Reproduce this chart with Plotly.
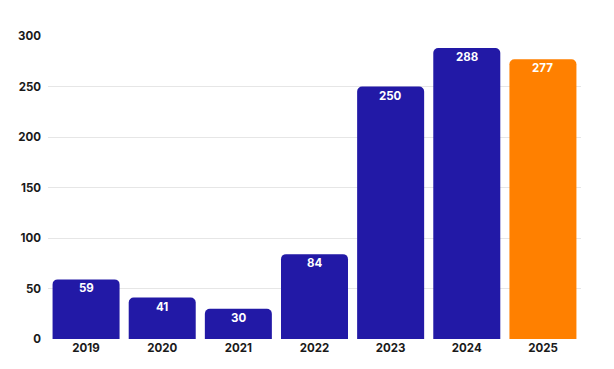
import plotly.graph_objects as go

years = ["2019", "2020", "2021", "2022", "2023", "2024", "2025"]
values = [59, 41, 30, 84, 250, 288, 277]
colors = ["#2219a6", "#2219a6", "#2219a6", "#2219a6", "#2219a6", "#2219a6", "#ff8000"]
y_ticks = [0, 50, 100, 150, 200, 250, 300]

fig = go.Figure(go.Bar(
    x=years, y=values,
    marker=dict(color=colors, cornerradius=5, line=dict(width=0)),
    hoverinfo="x+y",
))

for i, v in enumerate(values):
    fig.add_annotation(
        x=i, y=v, xref="x", yref="y", text=str(v), showarrow=False,
        yanchor="top", yshift=0,
        font=dict(family="Inter", size=11.5, color="white", weight="bold"),
    )

fig.update_layout(
    width=614, height=369,
    margin=dict(l=48, r=33, t=36, b=30),
    paper_bgcolor="white", plot_bgcolor="white",
    bargap=0.12,
    showlegend=False,
    font=dict(family="Inter", color="#1a1a1a"),
)
fig.update_xaxes(
    type="category", categoryorder="array", categoryarray=years,
    range=[-0.5, 6.5],
    showgrid=False, showline=False, ticks="",
    tickfont=dict(family="Inter", size=11.5, color="#1a1a1a", weight="bold"),
)
fig.update_yaxes(
    range=[0, 300], tickvals=y_ticks,
    showgrid=True, gridcolor="#e6e6e6", gridwidth=1,
    zeroline=False, showline=False, ticks="",
    tickfont=dict(family="Inter", size=11.5, color="#1a1a1a", weight="bold"),
    ticklabelstandoff=6,
)

fig.write_html("out.html")
